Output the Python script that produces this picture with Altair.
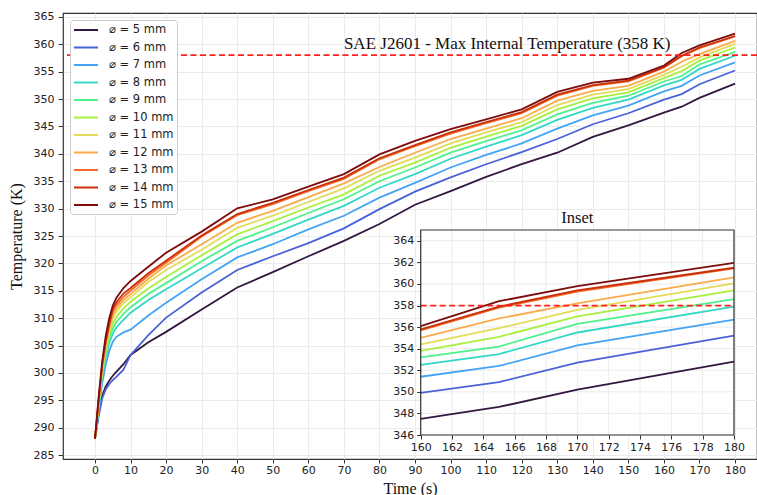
import altair as alt
import pandas as pd

# ---------------- data ----------------
times = [0, 1, 2, 3, 4, 5, 6, 8, 10, 15, 20, 30, 40, 50, 60, 70, 80, 90,
         100, 110, 120, 130, 140, 150, 160, 165, 170, 180]

labels = ["⌀ = 5 mm", "⌀ = 6 mm", "⌀ = 7 mm", "⌀ = 8 mm", "⌀ = 9 mm", "⌀ = 10 mm",
          "⌀ = 11 mm", "⌀ = 12 mm", "⌀ = 13 mm", "⌀ = 14 mm", "⌀ = 15 mm"]

T_5 = [288, 292.5, 295.8, 297.5, 298.6, 299.5, 300.2, 301.6, 303.3, 305.6, 307.5, 311.6, 315.6, 318.4,
       321.3, 324.1, 327.2, 330.7, 333.2, 335.8, 338.1, 340.2, 343.1, 345.2, 347.5, 348.6, 350.2, 352.8]
T_6 = [288, 292.0, 295.3, 297.0, 298.0, 298.7, 299.3, 300.6, 303.3, 306.9, 310.1, 314.7, 318.8, 321.3,
       323.7, 326.4, 329.9, 333.1, 335.7, 338.1, 340.3, 342.7, 345.4, 347.4, 349.9, 350.9, 352.7, 355.2]
T_7 = [288, 293.0, 298.0, 301.5, 304.0, 305.7, 306.6, 307.4, 307.9, 310.5, 312.8, 317.1, 321.1, 323.5,
       326.2, 328.7, 332.0, 334.7, 337.5, 339.8, 341.9, 344.6, 347.0, 348.8, 351.4, 352.4, 354.3, 356.7]
T_8 = [288, 293.5, 299.3, 302.8, 305.4, 307.2, 308.3, 309.7, 311.0, 313.3, 315.3, 319.1, 322.9, 325.4,
       328.0, 330.5, 333.8, 336.3, 339.1, 341.3, 343.4, 346.2, 348.4, 349.9, 352.5, 353.5, 355.5, 357.9]
T_9 = [288, 293.8, 299.8, 303.5, 306.3, 308.1, 309.3, 310.8, 312.0, 314.4, 316.4, 320.4, 324.1, 326.6,
       329.2, 331.7, 335.0, 337.5, 340.2, 342.3, 344.3, 347.2, 349.3, 350.6, 353.2, 354.2, 356.3, 358.6]
T_10 = [288, 294.0, 300.2, 304.0, 307.0, 309.0, 310.2, 311.8, 313.0, 315.4, 317.5, 321.5, 325.3, 327.7,
        330.2, 332.6, 336.0, 338.4, 341.1, 343.15, 345.1, 348.1, 350.1, 351.2, 353.8, 355.1, 357.0, 359.4]
T_11 = [288, 294.3, 300.6, 304.6, 307.8, 310.0, 311.2, 312.7, 313.8, 316.6, 318.8, 322.5, 326.5, 328.7,
        331.2, 333.7, 336.9, 339.3, 341.9, 343.9, 345.8, 348.9, 350.8, 351.8, 354.4, 355.9, 357.6, 360.05]
T_12 = [288, 294.5, 301.0, 305.0, 308.3, 310.6, 311.8, 313.3, 314.4, 317.2, 319.6, 323.5, 327.4, 329.6,
        332.1, 334.6, 337.6, 340.2, 342.7, 344.6, 346.5, 349.7, 351.5, 352.4, 355.0, 356.8, 358.2, 360.6]
T_13 = [288, 294.7, 301.2, 305.4, 308.6, 311.2, 312.4, 313.9, 315.0, 317.8, 320.1, 324.9, 328.8, 330.8,
        333.2, 335.4, 339.0, 341.4, 343.7, 345.6, 347.4, 350.6, 352.4, 353.2, 355.7, 357.8, 359.3, 361.45]
T_14 = [288, 294.9, 301.5, 305.8, 309.0, 311.7, 312.9, 314.5, 315.5, 318.2, 320.5, 325.1, 329.0, 331.05,
        333.4, 335.65, 339.2, 341.6, 343.9, 345.8, 347.6, 350.8, 352.55, 353.35, 355.8, 357.9, 359.4, 361.5]
T_15 = [288, 295.5, 302.0, 306.7, 310.0, 312.3, 313.7, 315.5, 316.8, 319.4, 321.95, 325.8, 330.05, 331.7,
        334.0, 336.3, 339.9, 342.35, 344.5, 346.3, 348.1, 351.3, 353.0, 353.7, 356.1, 358.4, 359.8, 361.95]

series_values = [T_5, T_6, T_7, T_8, T_9, T_10, T_11, T_12, T_13, T_14, T_15]

colors = ["#34173f", "#4a62d8", "#44a4f6", "#33d7c6", "#4ef28c", "#a8ef3e",
          "#e2dc58", "#fbab4a", "#f56b2c", "#c93109", "#7c0c0c"]

limit_temp = 358
limit_text = "SAE J2601 - Max Internal Temperature (358 K)"
main_xticks = [0, 10, 20, 30, 40, 50, 60, 70, 80, 90, 100, 110, 120, 130, 140, 150, 160, 170, 180]
main_yticks = [285, 290, 295, 300, 305, 310, 315, 320, 325, 330, 335, 340, 345, 350, 355, 360, 365]
inset_xticks = [160, 162, 164, 166, 168, 170, 172, 174, 176, 178, 180]
inset_yticks = [346, 348, 350, 352, 354, 356, 358, 360, 362, 364]

rows = []
for lab, vals in zip(labels, series_values):
    for t, v in zip(times, vals):
        rows.append({"t": t, "T": v, "series": lab})
df = pd.DataFrame(rows)
inset_df = df[df["t"] >= 160]

# ---------------- styling ----------------
W, H = 694, 446
serif = "Liberation Serif"
sans = "DejaVu Sans"
red = "#ff1f1f"

main_x = alt.Scale(domain=[-9, 186.18], nice=False, zero=False)
main_y = alt.Scale(domain=[284.3, 365.7], nice=False, zero=False)
in_x = alt.Scale(domain=[160, 180], range=[357.7, 671], nice=False, zero=False)
in_y = alt.Scale(domain=[346, 365], range=[422, 217], nice=False, zero=False)

ax_main_x = alt.Axis(values=main_xticks, title="Time (s)", grid=True, gridColor="#ebebeb",
                     domain=False, tickColor="#333", tickSize=4, labelPadding=1,
                     labelOverlap=False, labelFlush=False, labelFont=sans, labelFontSize=11,
                     labelColor="#222", titleFont=serif, titleFontSize=16, titleFontWeight="normal",
                     titleColor="#111", titlePadding=5, zindex=0)
ax_main_y = alt.Axis(values=main_yticks, title="Temperature (K)", grid=True, gridColor="#ebebeb",
                     domain=False, tickColor="#333", tickSize=5, labelPadding=4,
                     labelOverlap=False, labelFlush=False, labelFont=sans, labelFontSize=11,
                     labelColor="#222", titleFont=serif, titleFontSize=16, titleFontWeight="normal",
                     titleColor="#111", titlePadding=9, zindex=0)
ax_in_x = alt.Axis(values=inset_xticks, orient="bottom", offset=-(H - 422), title=None,
                   grid=False, domain=False, tickColor="#333", tickSize=4, labelPadding=2,
                   labelOverlap=False, labelFlush=False, labelFont=sans, labelFontSize=11,
                   labelColor="#222", zindex=1)
ax_in_y = alt.Axis(values=inset_yticks, orient="left", offset=-357.7, title=None,
                   grid=False, domain=False, tickColor="#333", tickSize=4, labelPadding=3,
                   labelOverlap=False, labelFlush=False, labelFont=sans, labelFontSize=11,
                   labelColor="#222", zindex=1)

color_scale = alt.Scale(domain=labels, range=colors)

main_lines = alt.Chart(df).mark_line(strokeWidth=1.8).encode(
    x=alt.X("t:Q", scale=main_x, axis=ax_main_x),
    y=alt.Y("T:Q", scale=main_y, axis=ax_main_y),
    color=alt.Color("series:N", scale=color_scale,
                    legend=alt.Legend(orient="none", legendX=7, legendY=7, title=None,
                                      symbolType="M-2,0H2", symbolSize=144, symbolStrokeWidth=2,
                                      symbolOffset=6, labelOffset=16, padding=3, rowPadding=4.5,
                                      labelFont=sans, labelFontSize=11.5, labelColor="#222",
                                      fillColor="white", strokeColor="#cccccc", cornerRadius=3,
                                      zindex=1)),
)

main_limit = alt.Chart().mark_rule(color=red, strokeWidth=1.7, strokeDash=[6, 3.5]).encode(
    y=alt.datum(limit_temp, type="quantitative", scale=main_y, axis=ax_main_y),
)

main_text = alt.Chart().mark_text(font=serif, fontSize=17, align="left", baseline="alphabetic",
                                  color="#111").encode(
    x=alt.datum(70, type="quantitative", scale=main_x, axis=ax_main_x),
    y=alt.datum(359.2, type="quantitative", scale=main_y, axis=ax_main_y),
    text=alt.value(limit_text),
)

main = alt.layer(main_lines, main_limit, main_text)

# ---------------- inset ----------------
inset_bg = alt.Chart().mark_rect(fill="white").encode(
    x=alt.datum(160, type="quantitative", scale=in_x, axis=ax_in_x),
    x2=alt.datum(180),
    y=alt.datum(346, type="quantitative", scale=in_y, axis=ax_in_y),
    y2=alt.datum(365),
)

vgrid = alt.Chart(pd.DataFrame({"x": inset_xticks})).mark_rule(color="#ebebeb", strokeWidth=1).encode(
    x=alt.X("x:Q", scale=in_x, axis=ax_in_x),
    y=alt.datum(346, type="quantitative", scale=in_y, axis=ax_in_y),
    y2=alt.datum(365),
)
hgrid = alt.Chart(pd.DataFrame({"y": inset_yticks})).mark_rule(color="#ebebeb", strokeWidth=1).encode(
    y=alt.Y("y:Q", scale=in_y, axis=ax_in_y),
    x=alt.datum(160, type="quantitative", scale=in_x, axis=ax_in_x),
    x2=alt.datum(180),
)

inset_lines = alt.Chart(inset_df).mark_line(strokeWidth=1.8).encode(
    x=alt.X("t:Q", scale=in_x, axis=ax_in_x),
    y=alt.Y("T:Q", scale=in_y, axis=ax_in_y),
    color=alt.Color("series:N", scale=color_scale, legend=None),
)

inset_limit = alt.Chart().mark_rule(color=red, strokeWidth=1.7, strokeDash=[6, 3.5]).encode(
    y=alt.datum(limit_temp, type="quantitative", scale=in_y, axis=ax_in_y),
    x=alt.datum(160, type="quantitative", scale=in_x, axis=ax_in_x),
    x2=alt.datum(180),
)

inset_frame = alt.Chart().mark_rect(fill=None, stroke="#333", strokeWidth=1.2).encode(
    x=alt.datum(160, type="quantitative", scale=in_x, axis=ax_in_x),
    x2=alt.datum(180),
    y=alt.datum(346, type="quantitative", scale=in_y, axis=ax_in_y),
    y2=alt.datum(365),
)

inset_title = alt.Chart().mark_text(font=serif, fontSize=16.5, align="center", baseline="alphabetic",
                                    dy=-7, color="#111").encode(
    x=alt.datum(170, type="quantitative", scale=in_x, axis=ax_in_x),
    y=alt.datum(365, type="quantitative", scale=in_y, axis=ax_in_y),
    text=alt.value("Inset"),
)

inset = alt.layer(inset_bg, vgrid, hgrid, inset_lines, inset_limit, inset_frame, inset_title)

chart = alt.layer(main, inset).resolve_scale(x="independent", y="independent").properties(
    width=W, height=H,
    autosize=alt.AutoSizeParams(type="none"),
    padding={"left": 63, "top": 13, "right": 0, "bottom": 36},
    background="white",
).configure_view(stroke="#333", strokeWidth=1.2)

chart.save("out.html", embed_options={"renderer": "svg", "actions": False})
